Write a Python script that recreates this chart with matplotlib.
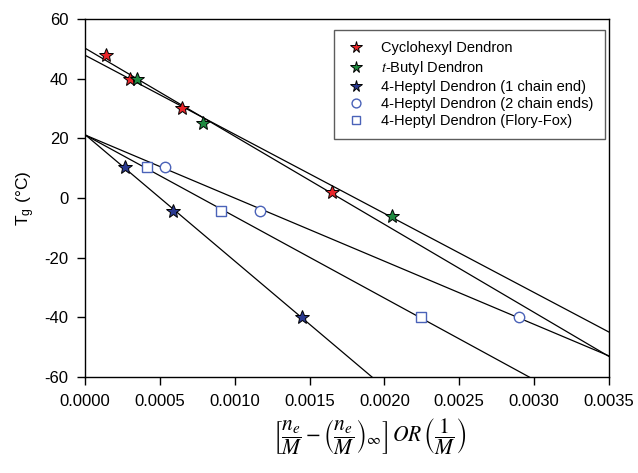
import numpy as np
import matplotlib
matplotlib.use("Agg")
import matplotlib.pyplot as plt

plt.rcParams['font.family'] = ['Liberation Sans', 'DejaVu Sans']
plt.rcParams['mathtext.fontset'] = 'stix'
plt.rcParams['axes.unicode_minus'] = False

# Glass transition data
cyclohexyl_x = [0.00014, 0.00030, 0.00065, 0.00165]
cyclohexyl_y = [48, 40, 30, 2]

tbutyl_x = [0.00035, 0.00079, 0.00205]
tbutyl_y = [40, 25, -6]

heptyl1_x = [0.000267, 0.00059, 0.00145]
heptyl1_y = [10.5, -4.5, -40]

heptyl2_x = [0.000533, 0.00117, 0.00290]
heptyl2_y = [10.5, -4.5, -40]

flory_x = [0.000412, 0.000907, 0.002244]
flory_y = [10.5, -4.5, -40]

labels = ["Cyclohexyl Dendron", "$\\it{t}$-Butyl Dendron",
          "4-Heptyl Dendron (1 chain end)", "4-Heptyl Dendron (2 chain ends)",
          "4-Heptyl Dendron (Flory-Fox)"]

fig = plt.figure(figsize=(6.38, 4.73), dpi=100)
ax = fig.add_axes([85/638, 1 - 377/473, 524/638, 358/473])

xmin, xmax = 0.0, 0.0035
xx = np.array([xmin, xmax])

series = [
    (cyclohexyl_x, cyclohexyl_y, dict(marker='*', ms=10, mfc='#e8262a', mec='black', mew=0.7)),
    (tbutyl_x, tbutyl_y, dict(marker='*', ms=10, mfc='#1e8a40', mec='black', mew=0.7)),
    (heptyl1_x, heptyl1_y, dict(marker='*', ms=10, mfc='#2a3990', mec='black', mew=0.7)),
    (heptyl2_x, heptyl2_y, dict(marker='o', ms=7.5, mfc='white', mec='#4a62b8', mew=1.0)),
    (flory_x, flory_y, dict(marker='s', ms=7, mfc='white', mec='#4a62b8', mew=1.0)),
]

# Linear fit for each series, drawn across the x range
for xs, ys, st in series:
    k, b = np.polyfit(xs, ys, 1)
    ax.plot(xx, k * xx + b, color='black', lw=0.9, zorder=1)

for (xs, ys, st), lab in zip(series, labels):
    ax.plot(xs, ys, ls='none', label=lab, zorder=3, **st)

ax.set_xlim(xmin, xmax)
ax.set_ylim(-60, 60)
xt = np.arange(0, 0.00351, 0.0005)
ax.set_xticks(xt)
ax.set_xticklabels([f"{v:.4f}" for v in xt])
ax.set_yticks(np.arange(-60, 61, 20))
ax.tick_params(direction='out', length=6, width=1, labelsize=12, pad=6,
               top=False, right=False)
for s in ax.spines.values():
    s.set_linewidth(1.0)

ax.set_ylabel("T$_\\mathregular{g}$ (°C)", fontsize=12.5, labelpad=5)
ax.set_xlabel(r"$\left[\dfrac{n_e}{M}-\left(\dfrac{n_e}{M}\right)_{\infty}\right]\,OR\,\left(\dfrac{1}{M}\right)$",
              fontsize=15.5, labelpad=6)
ax.xaxis.set_label_coords((370 - 85) / 524, -0.11, transform=ax.transAxes)
ax.xaxis.label.set_va('top')

leg = ax.legend(loc='upper right', bbox_to_anchor=(604.5/638, 1 - 30.5/473),
                bbox_transform=fig.transFigure, fontsize=10.5,
                frameon=True, fancybox=False, edgecolor='#333333',
                borderpad=0.75, labelspacing=0.22, handletextpad=0.9,
                borderaxespad=0, handlelength=1.6, markerscale=0.85)
leg.get_frame().set_linewidth(1.0)

fig.savefig("out.png", dpi=100)
